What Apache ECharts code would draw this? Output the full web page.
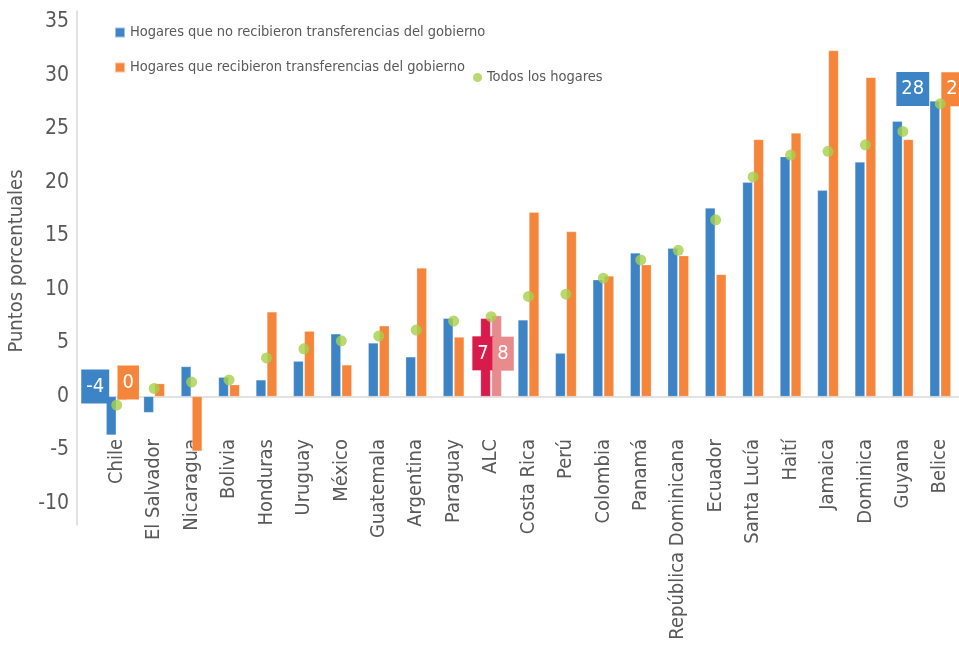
<!DOCTYPE html>
<html>
<head>
<meta charset="utf-8">
<script src="https://cdn.jsdelivr.net/npm/echarts@6/dist/echarts.min.js"></script>
<style>
  html, body { margin: 0; padding: 0; background: #fff; }
  #chart { width: 959px; height: 646px; }
</style>
</head>
<body>
<div id="chart"></div>
<script>
// categorias (paises) en el eje x
var categories = ['Chile', 'El Salvador', 'Nicaragua', 'Bolivia', 'Honduras', 'Uruguay', 'México',
    'Guatemala', 'Argentina', 'Paraguay', 'ALC', 'Costa Rica', 'Perú', 'Colombia', 'Panamá',
    'República Dominicana', 'Ecuador', 'Santa Lucía', 'Haití', 'Jamaica', 'Dominica', 'Guyana', 'Belice'];

// puntos porcentuales
var noTransfers = [-3.6, -1.5, 2.8, 1.8, 1.55, 3.3, 5.85, 5.0, 3.7, 7.3, 7.3, 7.15, 4.05,
    10.9, 13.4, 13.85, 17.6, 20.0, 22.4, 19.25, 21.9, 25.7, 27.6];
var transfers = [-0.3, 1.2, -5.1, 1.1, 7.9, 6.1, 2.95, 6.6, 12.0, 5.55, 7.55, 17.2, 15.4,
    11.25, 12.3, 13.15, 11.4, 24.0, 24.6, 32.3, 29.8, 24.0, 27.2];
var allHouseholds = [-0.8, 0.75, 1.35, 1.55, 3.6, 4.45, 5.2, 5.65, 6.2, 7.05, 7.45, 9.35, 9.55,
    11.05, 12.75, 13.65, 16.5, 20.5, 22.55, 22.9, 23.5, 24.75, 27.35];

var yTicks = [-10, -5, 0, 5, 10, 15, 20, 25, 30, 35];

var seriesNames = ['Hogares que no recibieron transferencias del gobierno',
    'Hogares que recibieron transferencias del gobierno', 'Todos los hogares'];

var BLUE = '#3d84c6', ORANGE = '#f4853a', GREEN = '#a6cf4c';
var RED = '#d81b4b', PINK = '#e98a8c';
var FONT = '"Liberation Sans Narrow", "DejaVu Sans Condensed", sans-serif';
var TEXT = '#595959';

// etiquetas en caja para Chile, ALC y Belice
var boxLabel = function (color, pos) {
    return {
        show: true,
        position: pos,
        align: 'center',
        verticalAlign: 'middle',
        color: '#fff',
        fontFamily: FONT,
        fontSize: 20,
        backgroundColor: color,
        padding: [7, 5],
        formatter: function (p) { return String(Math.round(p.value)); }
    };
};

var blueData = noTransfers.map(function (v, i) {
    var item = {value: v};
    if (categories[i] === 'Chile') item.label = boxLabel(BLUE, [-11, -10]);
    if (categories[i] === 'ALC') {
        item.itemStyle = {color: RED};
        item.label = boxLabel(RED, [2.5, 35]);
    }
    if (categories[i] === 'Belice') item.label = boxLabel(BLUE, [-17, -12]);
    return item;
});

var orangeData = transfers.map(function (v, i) {
    var item = {value: v};
    if (categories[i] === 'Chile') item.label = boxLabel(ORANGE, [11, -14]);
    if (categories[i] === 'ALC') {
        item.itemStyle = {color: PINK};
        item.label = boxLabel(PINK, [11.5, 38]);
    }
    if (categories[i] === 'Belice') item.label = boxLabel(ORANGE, [17, -16]);
    return item;
});

var legendText = {color: TEXT, fontFamily: FONT, fontSize: 14.5};

var option = {
    animation: false,
    backgroundColor: '#fff',
    textStyle: {fontFamily: FONT},
    legend: [
        {data: [{name: seriesNames[0], icon: 'rect'}], left: 114, top: 25, padding: 0,
            itemWidth: 10, itemHeight: 10, textStyle: legendText},
        {data: [{name: seriesNames[1], icon: 'rect'}], left: 114, top: 60, padding: 0,
            itemWidth: 10, itemHeight: 10, textStyle: legendText},
        {data: [{name: seriesNames[2], icon: 'circle'}], left: 473, top: 70, padding: 0,
            itemWidth: 9, itemHeight: 9, textStyle: legendText}
    ],
    grid: {left: 98, right: 0, top: 11, bottom: 121, containLabel: false, outerBoundsMode: 'none'},
    xAxis: {
        type: 'category',
        data: categories,
        axisLine: {onZero: true, lineStyle: {color: '#d9d9d9', width: 1.5}},
        axisTick: {show: false},
        axisLabel: {rotate: 90, margin: -86, interval: 0, color: TEXT, fontFamily: FONT, fontSize: 20}
    },
    yAxis: {
        type: 'value',
        min: -12,
        max: 36,
        interval: 1,
        offset: 21,
        name: 'Puntos porcentuales',
        nameLocation: 'middle',
        nameGap: 46,
        nameRotate: 90,
        nameTextStyle: {color: TEXT, fontFamily: FONT, fontSize: 20, padding: [0, 0, 0, 14]},
        axisLine: {show: true, lineStyle: {color: '#d9d9d9', width: 1.5}},
        axisTick: {show: false},
        splitLine: {show: false},
        axisLabel: {
            color: TEXT, fontFamily: FONT, fontSize: 21, margin: 8,
            formatter: function (v) { return yTicks.indexOf(v) >= 0 ? String(v) : ''; }
        }
    },
    series: [
        {
            name: seriesNames[0], type: 'bar', data: blueData,
            barWidth: 10, barGap: '10%',
            itemStyle: {color: BLUE, borderColor: 'rgba(255,255,255,0.5)', borderWidth: 0.5}
        },
        {
            name: seriesNames[1], type: 'bar', data: orangeData,
            barWidth: 10,
            itemStyle: {color: ORANGE, borderColor: 'rgba(255,255,255,0.5)', borderWidth: 0.5}
        },
        {
            name: seriesNames[2], type: 'scatter', data: allHouseholds,
            symbol: 'circle', symbolSize: 11, z: 5,
            itemStyle: {color: GREEN}
        }
    ]
};

var chart = echarts.init(document.getElementById('chart'));
chart.setOption(option);
</script>
</body>
</html>
